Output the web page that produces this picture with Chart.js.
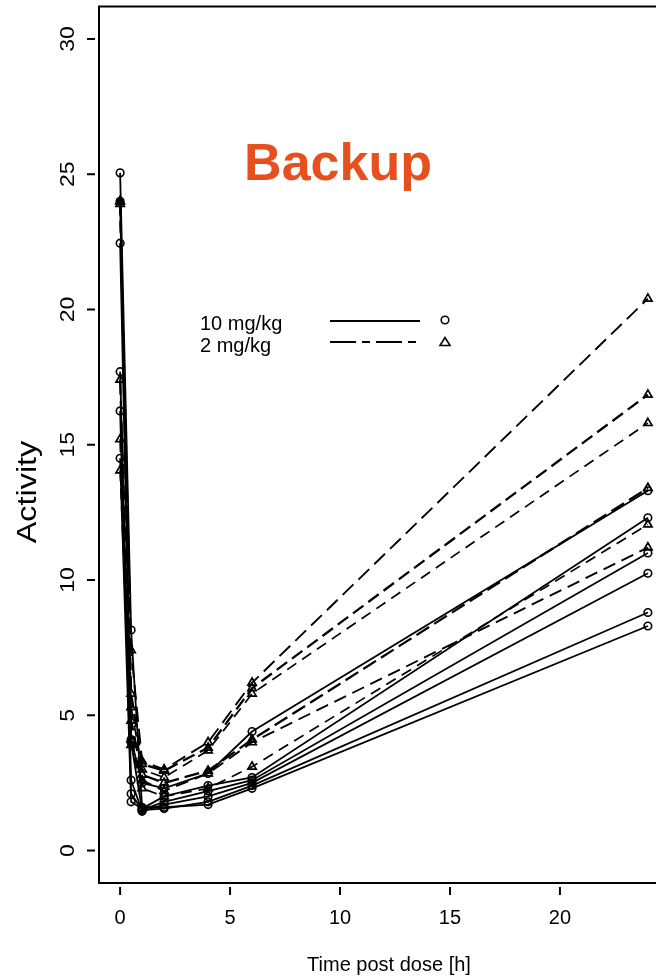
<!DOCTYPE html>
<html lang="en">
<head>
<meta charset="UTF-8" />
<title>Activity vs time post dose</title>
<script src="https://cdn.jsdelivr.net/npm/chart.js"></script>
<style>
  body { margin: 0; overflow: hidden; background: #fff; }
  #wrap { width: 656px; height: 978px; overflow: hidden; }
</style>
</head>
<body>
<div id="wrap"><canvas id="pkChart" width="700" height="978"></canvas></div>
<script>
// sampling times (h)
const times = [0, 0.5, 1, 2, 4, 6, 24];
const xTicks = [0, 5, 10, 15, 20];
const yTicks = [0, 5, 10, 15, 20, 25, 30];

// 10 mg/kg, one array per subject
const high1 = [25.05, 8.15, 1.6, 1.6, 1.7, 2.3, 8.3];
const high2 = [22.45, 4.0, 1.5, 1.55, 1.8, 2.4, 8.8];
const high3 = [17.7, 2.6, 1.45, 1.7, 2.0, 2.5, 10.25];
const high4 = [16.25, 2.1, 1.5, 1.8, 2.2, 2.6, 11.0];
const high5 = [14.5, 1.8, 1.55, 2.0, 2.4, 2.7, 12.3];
const high6 = [24.0, 4.1, 2.5, 2.3, 2.85, 4.4, 13.3];

// 2 mg/kg
const low1 = [24.0, 7.4, 3.3, 3.0, 4.0, 6.2, 20.4];
const low2 = [24.0, 5.8, 3.2, 2.95, 3.8, 6.0, 16.85];
const low3 = [23.9, 5.3, 3.0, 2.7, 3.7, 5.8, 15.8];
const low4 = [17.4, 4.8, 2.8, 2.5, 2.95, 4.1, 13.4];
const low5 = [15.2, 4.1, 2.6, 2.2, 2.85, 4.0, 11.2];
const low6 = [14.05, 3.9, 2.3, 2.0, 2.3, 3.1, 12.05];

const highSubjects = [high1, high2, high3, high4, high5, high6];
const lowSubjects = [low1, low2, low3, low4, low5, low6];
const lowDashes = [[15, 7], [13, 6], [11, 7], [15, 6], [13, 7], [11, 7]];
const lowWidths = [1.9, 2.3, 1.7, 2.3, 1.9, 1.7];

const FONT = '"Liberation Sans", Arial, sans-serif';

function toPoints(values) {
  return values.map((v, i) => ({ x: times[i], y: v }));
}

const datasets = [];
highSubjects.forEach((s, i) => {
  datasets.push({
    label: "10 mg/kg " + (i + 1),
    data: toPoints(s),
    borderColor: "#000",
    borderWidth: 1.8,
    pointStyle: "circle",
    pointRadius: 3.8,
    pointBorderWidth: 1.6,
    pointBackgroundColor: "rgba(0,0,0,0)",
    pointBorderColor: "#000",
    tension: 0,
  });
});
lowSubjects.forEach((s, i) => {
  datasets.push({
    label: "2 mg/kg " + (i + 1),
    data: toPoints(s),
    borderColor: "#000",
    borderWidth: lowWidths[i],
    borderDash: lowDashes[i],
    pointStyle: "triangle",
    pointRadius: 4.8,
    pointBorderWidth: 1.7,
    pointBackgroundColor: "rgba(0,0,0,0)",
    pointBorderColor: "#000",
    tension: 0,
  });
});

// rotated text, stretched a little along its length
function vText(ctx, text, cx, cy, font, stretch) {
  ctx.save();
  ctx.translate(cx, cy);
  ctx.rotate(-Math.PI / 2);
  ctx.scale(stretch, 1);
  ctx.font = font;
  ctx.fillText(text, 0, 0);
  ctx.restore();
}

// box, ticks, labels, legend and the title, drawn R style
const rAxes = {
  id: "rAxes",
  afterDraw(chart) {
    const { ctx, chartArea: a, scales: { x, y } } = chart;
    ctx.save();
    ctx.strokeStyle = "#000";
    ctx.fillStyle = "#000";
    ctx.setLineDash([]);
    ctx.lineWidth = 2;
    ctx.strokeRect(a.left, a.top, a.right - a.left, a.bottom - a.top);

    ctx.lineWidth = 2;
    ctx.font = "20px " + FONT;
    ctx.textAlign = "center";
    ctx.textBaseline = "middle";
    xTicks.forEach((v) => {
      const px = x.getPixelForValue(v);
      ctx.beginPath();
      ctx.moveTo(px, a.bottom + 4);
      ctx.lineTo(px, a.bottom + 12);
      ctx.stroke();
      ctx.fillText(String(v), px, a.bottom + 35);
    });
    yTicks.forEach((v) => {
      const py = y.getPixelForValue(v);
      ctx.beginPath();
      ctx.moveTo(a.left - 4, py);
      ctx.lineTo(a.left - 12, py);
      ctx.stroke();
      vText(ctx, String(v), a.left - 31, py, "20px " + FONT, 1.15);
    });

    // axis titles
    ctx.font = "20px " + FONT;
    ctx.fillText("Time post dose [h]", a.left + 290, 965);
    vText(ctx, "Activity", 29, 492, "27px " + FONT, 1.2);

    // legend
    ctx.textAlign = "left";
    ctx.textBaseline = "alphabetic";
    ctx.font = "20px " + FONT;
    ctx.fillText("10 mg/kg", 200, 330);
    ctx.fillText("2 mg/kg", 200, 352);
    ctx.lineWidth = 1.8;
    ctx.beginPath();
    ctx.moveTo(330, 321);
    ctx.lineTo(420, 321);
    ctx.stroke();
    ctx.setLineDash([26, 6, 8, 6]);
    ctx.beginPath();
    ctx.moveTo(330, 342);
    ctx.lineTo(420, 342);
    ctx.stroke();
    ctx.setLineDash([]);
    ctx.lineWidth = 1.6;
    ctx.beginPath();
    ctx.arc(445, 320, 3.8, 0, Math.PI * 2);
    ctx.stroke();
    ctx.beginPath();
    ctx.moveTo(445, 337.5);
    ctx.lineTo(450, 345.5);
    ctx.lineTo(440, 345.5);
    ctx.closePath();
    ctx.stroke();

    // title
    ctx.fillStyle = "#E5501E";
    ctx.textAlign = "center";
    ctx.font = "bold 52px " + FONT;
    ctx.fillText("Backup", 338, 180);
    ctx.restore();
  },
};

new Chart(document.getElementById("pkChart"), {
  type: "line",
  data: { datasets: datasets },
  options: {
    responsive: false,
    animation: false,
    layout: { padding: { left: 99, top: 6, right: 31, bottom: 95 } },
    plugins: { legend: { display: false }, tooltip: { enabled: false } },
    scales: {
      x: { type: "linear", min: -0.96, max: 24.96, display: false },
      y: { type: "linear", min: -1.2, max: 31.2, display: false },
    },
  },
  plugins: [rAxes],
});
</script>
</body>
</html>
